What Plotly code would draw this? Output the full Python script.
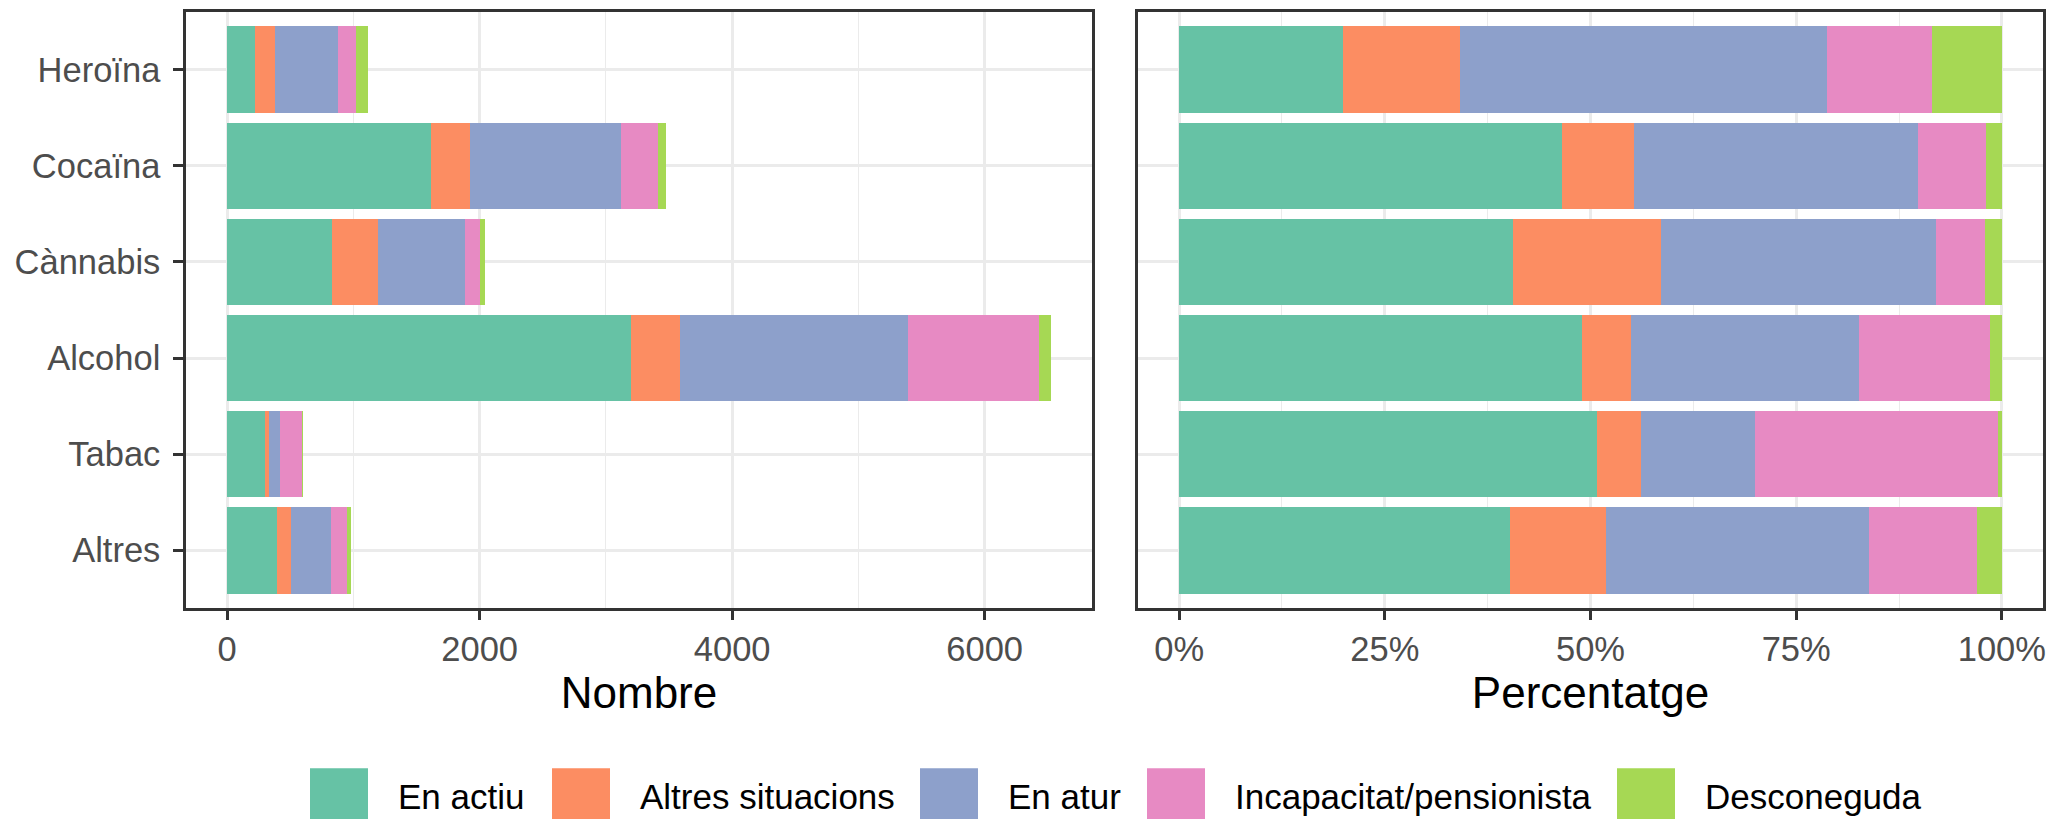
import plotly.graph_objects as go

# Situació laboral per droga principal (nombre de casos)
categories = ['Heroïna', 'Cocaïna', 'Cànnabis', 'Alcohol', 'Tabac', 'Altres']
series_names = ['En actiu', 'Altres situacions', 'En atur', 'Incapacitat/pensionista', 'Desconeguda']
en_actiu = [222, 1617, 830, 3195, 303, 393]
altres_situacions = [158, 305, 368, 390, 32, 114]
en_atur = [496, 1200, 682, 1810, 83, 313]
incapacitat = [141, 287, 122, 1032, 176, 128]
desconeguda = [95, 68, 42, 97, 3, 30]

left_ticks = [0, 2000, 4000, 6000]
right_ticks = [0, 0.25, 0.5, 0.75, 1]
right_ticktext = ['0%', '25%', '50%', '75%', '100%']

colors = ['#66C2A5', '#FC8D62', '#8DA0CB', '#E78AC3', '#A6D854']
series = [en_actiu, altres_situacions, en_atur, incapacitat, desconeguda]

totals = [sum(v) for v in zip(*series)]
max_total = max(totals)

# the page body keeps its default 8px margin, so the figure is 8px smaller
OFF = 8
W, H = 2064 - OFF, 819 - OFF
ML, MR, MT, MB = 186 - OFF, 21, 1, 211
PW, PH = W - ML - MR, H - MT - MB

FONT = 'Liberation Sans, Arial, sans-serif'
TICK_FONT = dict(family=FONT, size=34.5, color='#4D4D4D')
TITLE_FONT = dict(family=FONT, size=44, color='black')

fig = go.Figure()
for name, vals, col in zip(series_names, series, colors):
    fig.add_trace(go.Bar(
        y=categories, x=vals, orientation='h', name=name,
        marker=dict(color=col, line=dict(width=0)),
        xaxis='x', yaxis='y', showlegend=False))
    frac = [v / t for v, t in zip(vals, totals)]
    fig.add_trace(go.Bar(
        y=categories, x=frac, orientation='h', name=name,
        marker=dict(color=col, line=dict(width=0)),
        xaxis='x2', yaxis='y2', showlegend=False))

# page pixel -> paper coords
def px_x(px):
    return (px - OFF - ML) / PW

def px_y(py):
    return (H - MB - (py - OFF)) / PH

common_x = dict(
    showline=True, linecolor='#333333', linewidth=2.5, mirror=True,
    ticks='outside', ticklen=9, tickwidth=2.5, tickcolor='#333333',
    tickfont=TICK_FONT,
    gridcolor='#EBEBEB', gridwidth=2.5, zeroline=False,
)
common_y = dict(
    type='category', categoryorder='array', categoryarray=categories,
    range=[len(categories) - 0.4, -0.6],
    showline=True, linecolor='#333333', linewidth=2.5, mirror=True,
    gridcolor='#EBEBEB', gridwidth=2.5, zeroline=False,
)

fig.update_layout(
    width=W, height=H,
    margin=dict(l=ML, r=MR, t=MT, b=MB),
    paper_bgcolor='white', plot_bgcolor='white',
    barmode='stack', bargap=0.1,
    font=dict(family=FONT),
    xaxis=dict(
        common_x, domain=[0, px_x(1092)], anchor='y',
        range=[-0.05 * max_total, 1.05 * max_total],
        tickvals=left_ticks,
        minor=dict(dtick=1000, tick0=0, showgrid=True, gridcolor='#EBEBEB', gridwidth=1.3),
        title=dict(text='Nombre', font=TITLE_FONT, standoff=3),
    ),
    xaxis2=dict(
        common_x, domain=[px_x(1138), 1], anchor='y2',
        range=[-0.05, 1.05],
        tickvals=right_ticks, ticktext=right_ticktext,
        minor=dict(dtick=0.125, tick0=0, showgrid=True, gridcolor='#EBEBEB', gridwidth=1.3),
        title=dict(text='Percentatge', font=TITLE_FONT, standoff=3),
    ),
    yaxis=dict(
        common_y, anchor='x',
        ticks='outside', ticklen=10, tickwidth=2.5, tickcolor='#333333',
        tickfont=TICK_FONT, ticklabelstandoff=6,
    ),
    yaxis2=dict(
        common_y, anchor='x2', matches='y', showticklabels=False, ticks='',
    ),
)

# llegenda inferior (claus grans com a ggplot)
key_left = [310, 552, 920, 1147, 1617]
key_w, key_h, key_cy = 58, 56, 797
for name, col, kx in zip(series_names, colors, key_left):
    fig.add_shape(type='rect', xref='paper', yref='paper',
                  x0=px_x(kx), x1=px_x(kx + key_w),
                  y0=px_y(key_cy + key_h / 2), y1=px_y(key_cy - key_h / 2),
                  fillcolor=col, line=dict(width=0), layer='above')
    fig.add_annotation(xref='paper', yref='paper', x=px_x(kx + key_w + 28), y=px_y(key_cy),
                       text=name, showarrow=False, xanchor='left', yanchor='middle',
                       font=dict(family=FONT, size=35, color='black'))

fig.write_html("out.html")
